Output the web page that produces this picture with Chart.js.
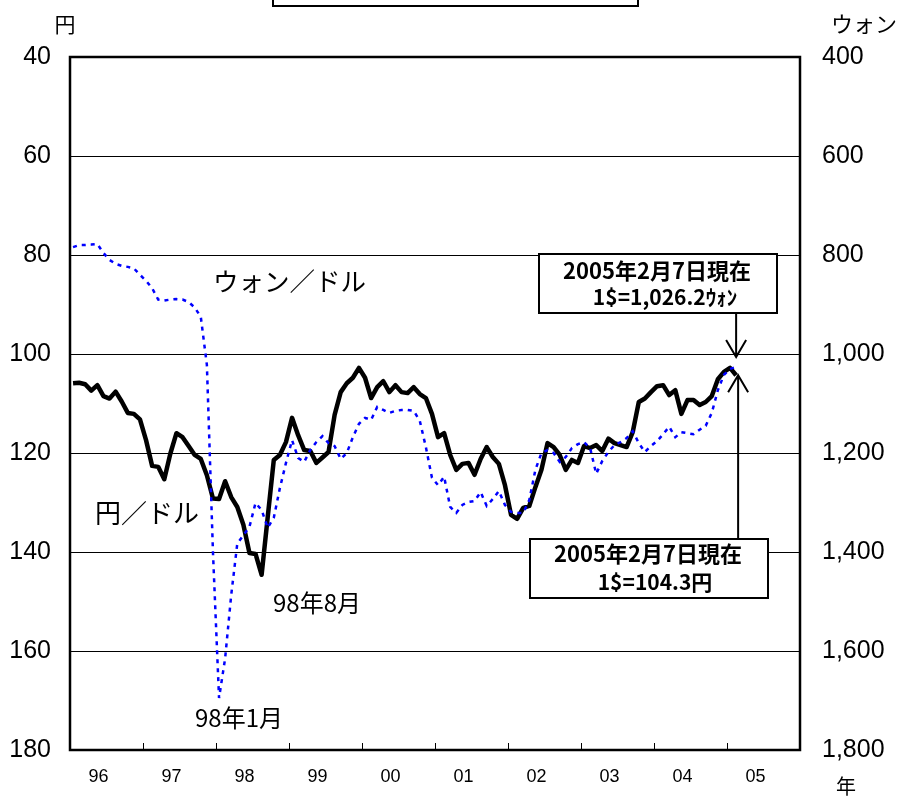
<!DOCTYPE html>
<html>
<head>
<meta charset="utf-8">
<script src="https://cdn.jsdelivr.net/npm/chart.js@4.4.0/dist/chart.umd.min.js"></script>
<style>
  html, body { margin: 0; padding: 0; background: #fff; }
  #wrap { position: relative; width: 899px; height: 798px; }
</style>
</head>
<body>
<div id="wrap"><canvas id="fxChart" width="899" height="798"></canvas></div>
<script>
// 月次データ 1996年1月〜2005年1月, 最後は2005年2月7日
const yearLabels = ["96", "97", "98", "99", "00", "01", "02", "03", "04", "05"];
const yenTicks = [40, 60, 80, 100, 120, 140, 160, 180];
const wonTicks = [400, 600, 800, 1000, 1200, 1400, 1600, 1800];

const yenPerDollar = [
  105.9, 105.8, 106.1, 107.4, 106.3, 108.5, 109.0, 107.6, 109.6, 111.9, 112.1, 113.2,
  117.4, 122.6, 122.8, 125.3, 120.1, 116.0, 116.8, 118.6, 120.4, 121.2, 124.5, 129.2,
  129.3, 125.7, 128.9, 130.9, 134.5, 140.2, 140.4, 144.6, 133.0, 121.4, 120.4, 117.8,
  112.9, 116.4, 119.4, 119.6, 122.0, 120.9, 119.8, 112.3, 107.7, 105.9, 104.8, 102.8,
  104.8, 108.9, 106.7, 105.5, 107.7, 106.3, 107.7, 107.9, 106.7, 108.1, 108.9, 112.1,
  116.8, 116.0, 120.4, 123.4, 122.2, 122.0, 124.4, 121.2, 118.8, 120.8, 122.2, 126.5,
  132.5, 133.3, 131.1, 130.7, 126.9, 123.4, 118.0, 118.8, 120.4, 123.4, 121.4, 122.0,
  118.6, 119.0, 118.4, 119.6, 117.1, 118.0, 118.4, 118.8, 115.8, 109.7, 109.0, 107.7,
  106.5, 106.3, 108.3, 107.3, 112.1, 109.3, 109.3, 110.3, 109.7, 108.5, 105.1, 103.6,
  102.8, 104.3
];

const wonPerDollar = [
  784, 780, 780, 779, 778, 796, 810, 818, 822, 824, 827, 840,
  852, 867, 890, 892, 890, 889, 890, 895, 906, 925, 1022, 1400,
  1695, 1615, 1487, 1383, 1366, 1349, 1301, 1315, 1351, 1331, 1271, 1220,
  1174, 1210, 1218, 1194, 1178, 1166, 1180, 1186, 1212, 1200, 1168, 1141,
  1129, 1133, 1107, 1113, 1119, 1115, 1113, 1113, 1115, 1135, 1188, 1250,
  1265, 1248, 1309, 1321, 1305, 1299, 1297, 1279, 1307, 1293, 1277, 1305,
  1319, 1321, 1321, 1295, 1234, 1200, 1194, 1200, 1218, 1208, 1190, 1182,
  1178, 1190, 1242, 1216, 1198, 1184, 1178, 1170, 1156, 1180, 1198, 1186,
  1176, 1162, 1147, 1168, 1158, 1160, 1162, 1153, 1145, 1119, 1073, 1042,
  1030, 1026.2
];

const latestDate = "2005年2月7日現在";
const latestWon = "1$=1,026.2ｳｫﾝ";
const latestYen = "1$=104.3円";

const JP = '"Noto Sans CJK JP", "Noto Sans", sans-serif';
const NUM = '"Liberation Sans", Arial, sans-serif';

function toPoints(values) {
  // 月の中央に置く
  return values.map((v, i) => ({ x: i + 0.5, y: v }));
}

function drawText(ctx, str, x, y, font, align, maxWidth) {
  ctx.font = font;
  ctx.textAlign = align || "left";
  ctx.textBaseline = "middle";
  ctx.fillStyle = "#000";
  if (maxWidth) ctx.fillText(str, x, y, maxWidth);
  else ctx.fillText(str, x, y);
}

function drawArrow(ctx, x, fromY, toY) {
  const dir = toY < fromY ? 1 : -1;
  ctx.beginPath();
  ctx.moveTo(x, fromY);
  ctx.lineTo(x, toY);
  ctx.moveTo(x - 10, toY + dir * 17);
  ctx.lineTo(x, toY);
  ctx.lineTo(x + 10, toY + dir * 17);
  ctx.stroke();
}

function drawBox(ctx, x, y, w, h) {
  ctx.fillStyle = "#fff";
  ctx.fillRect(x, y, w, h);
  ctx.strokeRect(x, y, w, h);
}

const decorPlugin = {
  id: "decor",
  afterDraw(chart) {
    const { ctx, chartArea: a, scales } = chart;
    ctx.save();
    ctx.strokeStyle = "#000";

    // 年の区切り目盛り（内側）
    ctx.lineWidth = 1;
    for (let k = 1; k < yearLabels.length; k++) {
      const px = Math.round(scales.x.getPixelForValue(k * 12)) + 0.5;
      ctx.beginPath();
      ctx.moveTo(px, a.bottom);
      ctx.lineTo(px, a.bottom - 7);
      ctx.stroke();
    }

    // 枠
    ctx.lineWidth = 2.5;
    ctx.strokeRect(a.left, a.top, a.right - a.left, a.bottom - a.top);

    // タイトル枠（上端で切れている）
    ctx.lineWidth = 2;
    ctx.strokeRect(273, -20, 365, 26);

    // 単位
    drawText(ctx, "円", 65, 24, "21px " + JP, "center");
    drawText(ctx, "ウォン", 831, 24, "22px " + JP, "left");
    drawText(ctx, "年", 846, 786, "20px " + JP, "center");

    // 系列名・注記
    drawText(ctx, "ウォン／ドル", 213, 281, "25.5px " + JP, "left");
    drawText(ctx, "円／ドル", 95, 513, "26px " + JP, "left");
    drawText(ctx, "98年8月", 273, 603, "24px " + JP, "left");
    drawText(ctx, "98年1月", 195, 718, "24px " + JP, "left");

    // 最新値の吹き出し
    const last = yenPerDollar.length - 1;
    const yenX = scales.x.getPixelForValue(last + 0.5);
    const yenY = scales.y.getPixelForValue(yenPerDollar[last]);
    const wonY = scales.y2.getPixelForValue(wonPerDollar[last]);

    ctx.lineWidth = 2;
    drawBox(ctx, 539, 254, 238, 59);
    drawText(ctx, latestDate, 657, 271, "bold 22px " + JP, "center", 193);
    drawText(ctx, latestWon, 665, 297, "bold 21px " + JP, "center", 146);
    drawArrow(ctx, yenX, 313, wonY - 10);

    drawBox(ctx, 530, 539, 238, 59);
    drawText(ctx, latestDate, 648, 554, "bold 22px " + JP, "center", 193);
    drawText(ctx, latestYen, 655, 582, "bold 21px " + JP, "center", 116);
    drawArrow(ctx, yenX + 2, 539, yenY);

    ctx.restore();
  },
};

new Chart(document.getElementById("fxChart"), {
  type: "line",
  data: {
    datasets: [
      {
        label: "ウォン／ドル",
        data: toPoints(wonPerDollar),
        yAxisID: "y2",
        borderColor: "#0000ff",
        borderWidth: 2.5,
        borderDash: [4, 5],
        pointRadius: 0,
        tension: 0,
        order: 0,
      },
      {
        label: "円／ドル",
        data: toPoints(yenPerDollar),
        yAxisID: "y",
        borderColor: "#000",
        borderWidth: 4.5,
        borderJoinStyle: "round",
        pointRadius: 0,
        tension: 0,
        order: 1,
      },
    ],
  },
  options: {
    responsive: false,
    devicePixelRatio: 1,
    animation: false,
    layout: { padding: { top: 57, left: 0, right: 0, bottom: 0 } },
    plugins: { legend: { display: false }, tooltip: { enabled: false } },
    scales: {
      x: {
        type: "linear",
        min: 0,
        max: 120,
        afterBuildTicks: (scale) => {
          scale.ticks = yearLabels.map((_, i) => ({ value: i * 12 + 4.7 }));
        },
        afterFit: (scale) => { scale.height = 48; },
        ticks: {
          autoSkip: false,
          maxRotation: 0,
          padding: 8,
          color: "#000",
          font: { family: NUM, size: 18 },
          callback: (value, index) => yearLabels[index],
        },
        grid: { display: false },
        border: { display: false },
      },
      y: {
        position: "left",
        reverse: true,
        min: 40,
        max: 180,
        afterBuildTicks: (scale) => {
          scale.ticks = yenTicks.map((v) => ({ value: v }));
        },
        afterFit: (scale) => { scale.width = 70; },
        ticks: {
          padding: 19,
          color: "#000",
          font: { family: NUM, size: 25 },
        },
        grid: { color: "#000", lineWidth: 1, drawTicks: false },
        border: { display: false },
      },
      y2: {
        position: "right",
        reverse: true,
        min: 400,
        max: 1800,
        afterBuildTicks: (scale) => {
          scale.ticks = wonTicks.map((v) => ({ value: v }));
        },
        afterFit: (scale) => { scale.width = 99; },
        ticks: {
          padding: 22,
          color: "#000",
          font: { family: NUM, size: 25 },
          callback: (value) => value.toLocaleString("en-US"),
        },
        grid: { display: false, drawTicks: false },
        border: { display: false },
      },
    },
  },
  plugins: [decorPlugin],
});
</script>
</body>
</html>
